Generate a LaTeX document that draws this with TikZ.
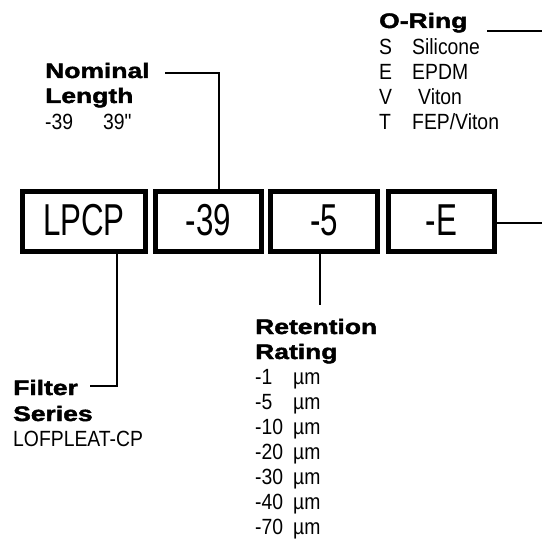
\documentclass[tikz,border=0pt]{standalone}
\usepackage{fontspec}
\newfontfamily\regf{Liberation Sans}[FakeStretch=0.88]
\newfontfamily\boxf{Liberation Sans}[FakeStretch=0.7]
\newfontfamily\blkf{Liberation Sans Bold}[FakeStretch=1.26,FakeBold=2]
\tikzset{
  headt/.style={anchor=base west, inner sep=0pt, font=\blkf\fontsize{21}{25}\selectfont},
  valt/.style={anchor=base west, inner sep=0pt, font=\regf\fontsize{22}{25}\selectfont},
  codebox/.style={draw, line width=5pt, inner sep=0pt, minimum height=60pt,
    text height=32pt, text depth=5pt, font=\boxf\fontsize{44.7}{50}\selectfont},
  conn/.style={line width=2pt}
}
\begin{document}
\begin{tikzpicture}[x=1pt,y=-1pt]
\useasboundingbox (0,0) rectangle (542,545);
% code boxes
\node[codebox, minimum width=123pt] (lpcp) at (84,221.5) {LPCP};
\node[codebox, minimum width=106pt] (n39) at (208.5,221.5) {-39};
\node[codebox, minimum width=107pt] (n5) at (324,221.5) {-5};
\node[codebox, minimum width=106pt] (nE) at (441.5,221.5) {-E};
% Nominal length
\node[headt] (nom1) at (45,78) {Nominal};
\node[headt] (nom2) at (45,103) {Length};
\node[valt] (nomv) at (45,130) {\makebox[58pt][l]{-39}39"};
% O-Ring
\node[headt] (or1) at (379,28) {O-Ring};
\node[valt] (orS) at (379,54.5) {\makebox[33pt][l]{S}Silicone};
\node[valt] (orE) at (379,79.5) {\makebox[33pt][l]{E}EPDM};
\node[valt] (orV) at (379,105) {\makebox[33pt][l]{V}\hspace{6pt}Viton};
\node[valt] (orT) at (379,130) {\makebox[33pt][l]{T}FEP/Viton};
% Filter series
\node[headt] (fs1) at (13,395) {Filter};
\node[headt] (fs2) at (13,421) {Series};
\node[valt] (fsv) at (13,446) {LOFPLEAT-CP};
% Retention rating
\node[headt] (rr1) at (255,334) {Retention};
\node[headt] (rr2) at (255,359) {Rating};
\node[valt] (rra) at (255,384) {\makebox[38pt][l]{-1}µm};
\node[valt] (rrb) at (255,409) {\makebox[38pt][l]{-5}µm};
\node[valt] (rrc) at (255,434) {\makebox[38pt][l]{-10}µm};
\node[valt] (rrd) at (255,459) {\makebox[38pt][l]{-20}µm};
\node[valt] (rre) at (255,484) {\makebox[38pt][l]{-30}µm};
\node[valt] (rrf) at (255,509) {\makebox[38pt][l]{-40}µm};
\node[valt] (rrg) at (255,534) {\makebox[38pt][l]{-70}µm};
% connectors
\coordinate (nomend) at (165,72.7);
\draw[conn] (nomend) -| ([xshift=10.5pt]n39.north);
\coordinate (filend) at (90,386);
\draw[conn] ([xshift=33pt]lpcp.south) |- (filend);
\coordinate (retend) at (320,305);
\draw[conn] ([xshift=-4pt]n5.south) -- (retend);
\coordinate (Eend) at (542,223);
\draw[conn] (nE.east |- Eend) -- (Eend);
\coordinate (ostart) at (487,30.7);
\coordinate (oend) at (542,30.7);
\draw[conn] (ostart) -- (oend);
\end{tikzpicture}
\end{document}
